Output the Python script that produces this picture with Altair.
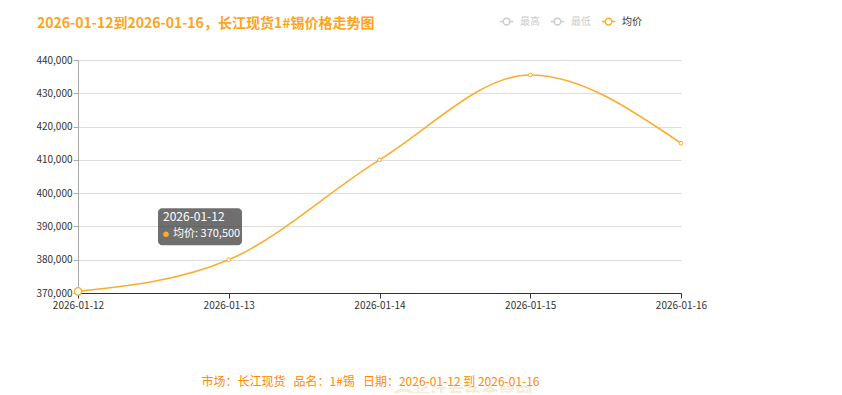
import altair as alt
import pandas as pd

# ---- data ----
dates = ["2026-01-12", "2026-01-13", "2026-01-14", "2026-01-15", "2026-01-16"]
avg_price = [370500, 380000, 410000, 435500, 415000]
series_names = ["最高", "最低", "均价"]
series_colors = ["#cccccc", "#cccccc", "#FDAD2C"]
y_ticks = [370000, 380000, 390000, 400000, 410000, 420000, 430000, 440000]

title_text = "2026-01-12到2026-01-16，长江现货1#锡价格走势图"
caption_text = "市场：长江现货\u00a0\u00a0\u00a0品名：1#锡\u00a0\u00a0\u00a0日期：2026-01-12 到 2026-01-16"
watermark_text = "长江有色金属网"

tip_date = "2026-01-12"
tip_value = 370500

FONT = "Noto Sans CJK SC"
ORANGE = "#FDAD2C"

df = pd.DataFrame({"date": dates, "value": avg_price, "series": "均价"})
tip = pd.DataFrame({"date": [tip_date], "value": [tip_value],
                    "l1": [tip_date], "l2": ["均价: " + f"{tip_value:,}"],
                    "wm": [watermark_text]})

x_enc = alt.X("date:N", sort=dates,
              scale=alt.Scale(type="point", padding=0),
              axis=alt.Axis(title=caption_text, labelAngle=0, labelFontSize=10,
                            labelColor="#333", labelFont=FONT, domainColor="#333",
                            tickColor="#333", tickSize=5, labelPadding=2,
                            grid=False, titleColor="#FF8A00", titleFont=FONT,
                            titleFontSize=12, titleFontWeight="normal",
                            titleX=292, titleY=88, titleAlign="center",
                            titleBaseline="middle"))
y_enc = alt.Y("value:Q",
              scale=alt.Scale(domain=[370000, 440000], nice=False, zero=False),
              axis=alt.Axis(title=None, values=y_ticks,
                            labelExpr="format(datum.value, ',')",
                            labelOverlap=False, labelFontSize=10,
                            labelColor="#333", labelFont=FONT, domainColor="#aaa",
                            tickColor="#aaa", tickSize=5, labelPadding=1,
                            gridColor="#dddddd", gridWidth=1))

legend = alt.Legend(
    title=None, orient="none", direction="horizontal", legendX=421, legendY=-46,
    padding=0, labelFont=FONT, labelFontSize=10,
    labelColor={"expr": "datum.label == '均价' ? '#333333' : '#cccccc'"},
    symbolType="M-1,0L-0.5,0M0.5,0L1,0M0.5,0A0.5,0.5 0 1 1 -0.5,0A0.5,0.5 0 1 1 0.5,0Z",
    symbolSize=180, symbolStrokeWidth=1.5, symbolFillColor="white",
    labelOffset=6, columnPadding=7)

line = alt.Chart(df).mark_line(interpolate="monotone", strokeWidth=1.6).encode(
    x=x_enc, y=y_enc,
    color=alt.Color("series:N", scale=alt.Scale(domain=series_names, range=series_colors),
                    legend=legend))

pts = alt.Chart(df).mark_point(filled=True, fill="white", stroke=ORANGE,
                               strokeWidth=1, size=14, opacity=1).encode(
    x=x_enc, y=y_enc)

hover = alt.Chart(tip).mark_point(filled=True, fill="white", stroke=ORANGE,
                                  strokeWidth=1.2, size=55, opacity=1).encode(
    x=x_enc, y=y_enc)

box = alt.Chart(tip).mark_rect(fill="#323232", opacity=0.7, cornerRadius=4,
                               xOffset=80, x2Offset=164, yOffset=-83, y2Offset=-46).encode(
    x=x_enc, x2="date:N", y=y_enc, y2="value:Q")

t1 = alt.Chart(tip).mark_text(align="left", baseline="middle", dx=85, dy=-74,
                              color="white", font=FONT, fontSize=12).encode(
    x=x_enc, y=y_enc, text="l1:N")

dot = alt.Chart(tip).mark_point(filled=True, color=ORANGE, size=30, opacity=1,
                                xOffset=88, yOffset=-57).encode(
    x=x_enc, y=y_enc)

t2 = alt.Chart(tip).mark_text(align="left", baseline="middle", dx=95, dy=-57,
                              color="white", font=FONT, fontSize=11).encode(
    x=x_enc, y=y_enc, text="l2:N")

wm = alt.Chart(tip).mark_text(align="center", baseline="middle", dx=395, dy=104,
                              color="#d9b36a", opacity=0.25, font=FONT, fontSize=17,
                              fontWeight="bold").encode(
    x=x_enc, y=y_enc, text="wm:N")

wm_logo = alt.Chart(tip).mark_point(shape="circle", filled=False, color="#e2c27a",
                                    strokeWidth=3, size=700, opacity=0.3,
                                    xOffset=326, yOffset=112).encode(
    x=x_enc, y=y_enc)

chart = alt.layer(line, pts, hover, box, t1, dot, t2, wm_logo, wm).properties(
    width=603, height=233,
    autosize=alt.AutoSizeParams(type="none"),
    padding={"left": 70, "top": 52, "right": 140, "bottom": 100},
    background="white",
    title=alt.TitleParams(title_text, anchor="start", frame="group", dx=-41, offset=-17,
                          fontSize=14, fontWeight="bold", color="#FFA41B", font=FONT),
).configure_view(stroke=None)

chart.save("out.html", embed_options={"renderer": "svg", "actions": False})
